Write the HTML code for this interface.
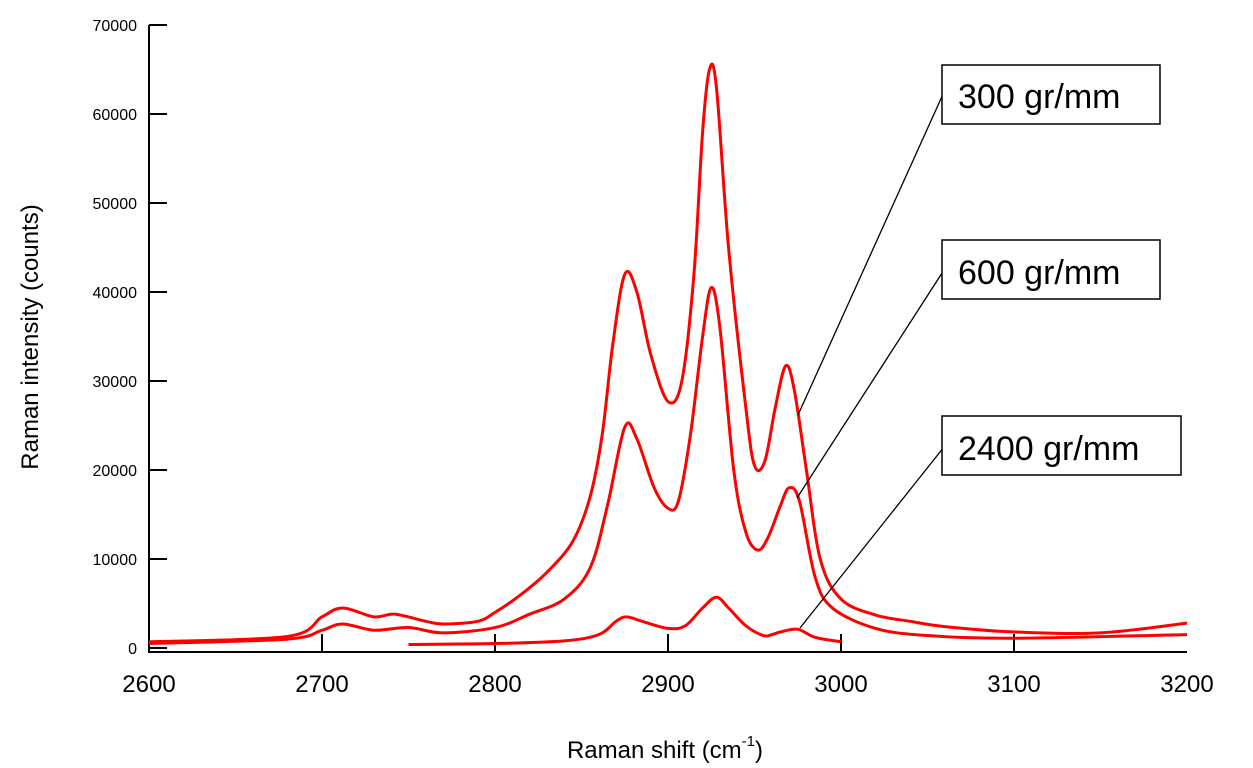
<!DOCTYPE html>
<html><head><meta charset="utf-8"><style>
body{margin:0;background:#fff;}
svg{display:block;font-family:"Liberation Sans","DejaVu Sans",sans-serif;}
</style></head><body>
<svg id="chart" width="1253" height="768">
<g id="axes"></g>
<g id="series"></g>
<text x="38" y="337" transform="rotate(-90 38 337)" text-anchor="middle" font-size="24">Raman intensity (counts)</text>
<text x="665" y="758" text-anchor="middle" font-size="24">Raman shift (cm<tspan dy="-12" font-size="15">-1</tspan><tspan dy="12">)</tspan></text>
<g>
<line x1="944" y1="92" x2="798" y2="415" stroke="#000" stroke-width="1.3"/>
<rect x="942" y="65" width="218" height="59" fill="#fff" stroke="#000" stroke-width="1.5"/>
<text x="958" y="108" font-size="34">300 gr/mm</text></g>
<g>
<line x1="944" y1="270" x2="797" y2="498" stroke="#000" stroke-width="1.3"/>
<rect x="942" y="240" width="218" height="59" fill="#fff" stroke="#000" stroke-width="1.5"/>
<text x="958" y="284" font-size="34">600 gr/mm</text></g>
<g>
<line x1="944" y1="447" x2="800" y2="628" stroke="#000" stroke-width="1.3"/>
<rect x="942" y="416" width="239" height="59" fill="#fff" stroke="#000" stroke-width="1.5"/>
<text x="958" y="460" font-size="34">2400 gr/mm</text></g>
</svg>
<script>
const xTicks=[2600,2700,2800,2900,3000,3100,3200];
const yTicks=[0,10000,20000,30000,40000,50000,60000,70000];
const x300=[2600,2680,2700,2712,2730,2742,2760,2770,2790,2800,2815,2830,2845,2855,2862,2868,2875,2882,2890,2900,2908,2915,2920,2924,2928,2935,2945,2950,2956,2962,2968,2973,2980,2988,3000,3020,3040,3060,3100,3150,3200];
const y300=[700,1300,3500,4500,3500,3800,3000,2700,3000,4000,6000,8500,12000,17000,24000,34000,42000,40000,33000,27700,30000,42000,58000,65000,63000,45000,27000,20500,21000,27000,31700,29000,20000,10000,5500,3700,3000,2400,1800,1700,2800];
const x600=[2600,2680,2700,2712,2730,2750,2770,2800,2820,2840,2855,2865,2875,2882,2892,2900,2906,2913,2920,2925,2930,2938,2945,2952,2958,2965,2970,2976,2985,2995,3020,3050,3100,3200];
const y600=[500,1000,2000,2700,2000,2300,1700,2300,3800,5500,9000,16000,24800,23500,18000,15700,16500,24000,35000,40500,36000,20000,13000,11000,12500,16000,18000,16500,8000,4500,2200,1400,1100,1500];
const x2400=[2750,2800,2840,2860,2870,2876,2885,2900,2910,2920,2928,2935,2945,2955,2960,2965,2975,2985,3000];
const y2400=[400,500,800,1500,3000,3500,3000,2200,2500,4500,5700,4500,2500,1400,1500,1800,2100,1200,700];
const X=v=>149+(v-2600)*(1038/600);
const Y=v=>648-v*(623/70000);
const NS="http://www.w3.org/2000/svg";
const ax=document.getElementById('axes');
function mk(t,a,p){const e=document.createElementNS(NS,t);for(const k in a)e.setAttribute(k,a[k]);p.appendChild(e);return e;}
const yl=mk('line',{x1:149,y1:Y(70000),x2:149,y2:652,stroke:'#000','stroke-width':2},ax);


const xl=mk('line',{x1:148,y1:652,x2:1187,y2:652,stroke:'#000','stroke-width':2},ax);


yTicks.forEach(v=>{
 mk('line',{x1:149,y1:Y(v),x2:167,y2:Y(v),stroke:'#000','stroke-width':2},ax);
 const t=mk('text',{x:137,y:Y(v)+6,'text-anchor':'end','font-size':16},ax);
 t.textContent=v;
 
 
});
xTicks.forEach(v=>{
 if(v>2600&&v<3200)mk('line',{x1:X(v),y1:652,x2:X(v),y2:634,stroke:'#000','stroke-width':2},ax);
 const t=mk('text',{x:X(v),y:692,'text-anchor':'middle','font-size':24},ax);
 t.textContent=v;
 
 
});
function smooth(pts){
 let d='M'+pts[0][0]+','+pts[0][1];
 for(let i=0;i<pts.length-1;i++){
  const p0=pts[Math.max(0,i-1)],p1=pts[i],p2=pts[i+1],p3=pts[Math.min(pts.length-1,i+2)];
  const c1x=p1[0]+(p2[0]-p0[0])/6,c1y=p1[1]+(p2[1]-p0[1])/6;
  const c2x=p2[0]-(p3[0]-p1[0])/6,c2y=p2[1]-(p3[1]-p1[1])/6;
  d+=' C'+c1x+','+c1y+' '+c2x+','+c2y+' '+p2[0]+','+p2[1];
 }
 return d;
}
const sg=document.getElementById('series');
[[x300,y300,'series-300'],[x600,y600,'series-600'],[x2400,y2400,'series-2400']].forEach(([xs,ys,n])=>{
 const p=mk('path',{d:smooth(xs.map((x,i)=>[X(x),Y(ys[i])])),fill:'none',stroke:'#ff0000','stroke-width':3,'stroke-linejoin':'round'},sg);
 
 
});
</script>
</body></html>
